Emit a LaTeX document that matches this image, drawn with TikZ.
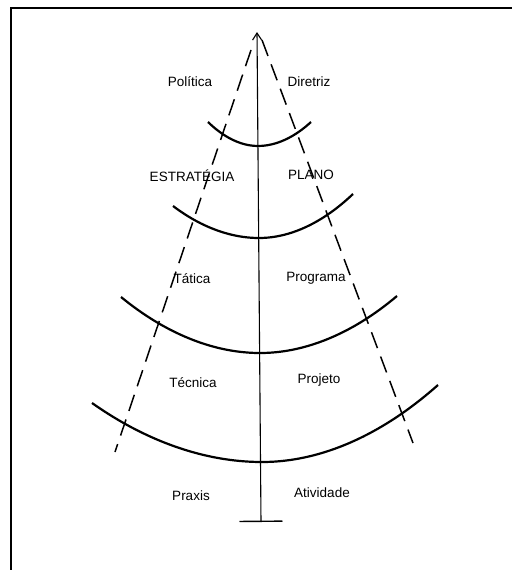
\documentclass[tikz,border=0pt]{standalone}
\usepackage{fontspec}
\setmainfont{Liberation Sans}
\usetikzlibrary{arrows.meta}
\tikzset{
  levelarc/.style={line width=2.2pt},
  edgeline/.style={line width=1.5pt, dash pattern=on 17pt off 9pt},
  axisline/.style={line width=1.1pt, {Bar[width=43pt,line width=1.4pt]}-{Straight Barb[length=7pt,width=9pt]}},
  levellabel/.style={font=\fontsize{13.5}{16}\selectfont}
}

\begin{document}
\begin{tikzpicture}[x=1pt,y=-1pt]
    \useasboundingbox (0,0) rectangle (512,570);
    % frame
    \draw[line width=1.3pt] (11,570) -- (11,8) -- (512,8);
    % axis
    \coordinate (tip) at (257,32);
    \coordinate (base) at (261,522);
    \draw[axisline] (base) -- (tip);
    % dashed sides
    \coordinate (apexL) at (251,50);
    \coordinate (apexR) at (262,40);
    \coordinate (endL) at (115,452);
    \coordinate (endR) at (413,443);
    \draw[edgeline] (apexL) -- (endL);
    \draw[edgeline] (apexR) -- (endR);
    % levels
    \coordinate (a1l) at (208,122); \coordinate (a1b) at (258,146); \coordinate (a1r) at (311,122);
    \coordinate (a2l) at (173,206); \coordinate (a2b) at (259,238); \coordinate (a2r) at (353,194);
    \coordinate (a3l) at (121,297); \coordinate (a3b) at (260,353); \coordinate (a3r) at (397,296);
    \coordinate (a4l) at (92,403);  \coordinate (a4b) at (262,462); \coordinate (a4r) at (438,385);
    \foreach \k in {1,2,3,4}
      \draw[levelarc] (a\k l) parabola bend (a\k b) (a\k r);
    % labels
    \node[levellabel] (politica) at (190,82) {Política};
    \node[levellabel] (diretriz) at (309,82) {Diretriz};
    \node[levellabel] (estrategia) at (192,176) {ESTRATÉGIA};
    \node[levellabel] (plano) at (311,175) {PLANO};
    \node[levellabel] (tatica) at (192,279) {Tática};
    \node[levellabel] (programa) at (316,278) {Programa};
    \node[levellabel] (tecnica) at (193,383) {Técnica};
    \node[levellabel] (projeto) at (319,380) {Projeto};
    \node[levellabel] (praxis) at (191,496) {Praxis};
    \node[levellabel] (atividade) at (322,493) {Atividade};
  \end{tikzpicture}
\end{document}
